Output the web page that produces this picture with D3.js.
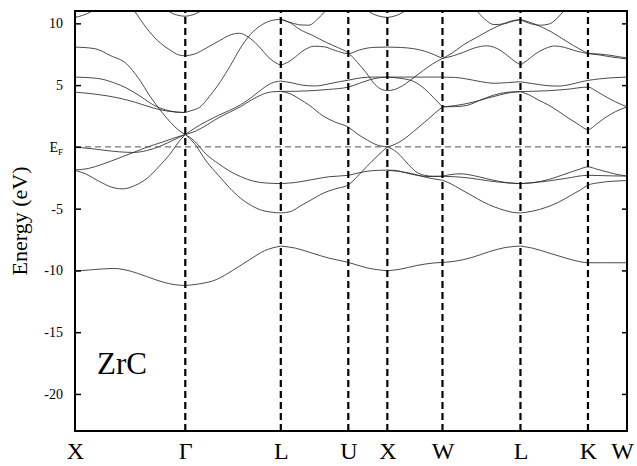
<!DOCTYPE html>
<html>
<head>
<meta charset="utf-8">
<script src="https://cdn.jsdelivr.net/npm/d3@7"></script>
<style>
  html, body { margin: 0; padding: 0; background: #fff; }
  svg { display: block; }
</style>
</head>
<body>
<svg id="chart" width="637" height="466"></svg>
<script>
// High-symmetry points along the FCC Brillouin-zone path (cumulative |k|, units of 2π/a)
const kTicks = [0, 1, 1.866, 2.478, 2.832, 3.332, 4.039, 4.651, 5.005];
const kLabels = ["X", "Γ", "L", "U", "X", "W", "L", "K", "W"];
const energyTicks = [10, 5, 0, -5, -10, -15, -20];
const compound = "ZrC";

// Band energies (eV) as [k, E] pairs, one group per path section
const bandsXG = [
  [[0, 10.48], [0.07, 10.65], [0.155, 11.0], [0.22, 11.5]],
  [[0.80, 11.4], [0.86, 10.92], [0.93, 10.66], [1, 10.57]],
  [[0.50, 11.5], [0.54, 11.0], [0.65, 9.6], [0.75, 8.6], [0.86, 7.85], [0.94, 7.45], [1, 7.37]],
  [[0, 8.08], [0.18, 7.95], [0.32, 7.4], [0.47, 6.7], [0.58, 5.5], [0.68, 4.1], [0.78, 2.9], [0.87, 1.95], [0.94, 1.35], [1, 1.0]],
  [[0, 5.65], [0.2, 5.55], [0.35, 5.2], [0.47, 4.75], [0.6, 4.05], [0.71, 3.4], [0.82, 3.0], [0.92, 2.82], [1, 2.78]],
  [[0, 4.43], [0.2, 4.25], [0.4, 3.95], [0.55, 3.6], [0.71, 3.15], [0.85, 2.88], [1, 2.78]],
  [[0, 0], [0.2, -0.2], [0.4, -0.4], [0.53, -0.45], [0.65, -0.3], [0.77, 0.05], [0.88, 0.5], [1, 1.0]],
  [[0, -1.87], [0.12, -1.75], [0.25, -1.4], [0.4, -0.9], [0.53, -0.45], [0.66, 0.0], [0.78, 0.35], [0.9, 0.72], [1, 1.0]],
  [[0, -1.9], [0.1, -2.2], [0.22, -2.8], [0.33, -3.25], [0.43, -3.4], [0.55, -3.1], [0.66, -2.5], [0.76, -1.6], [0.86, -0.6], [0.94, 0.4], [1, 1.0]],
  [[0, -10.06], [0.15, -9.95], [0.35, -9.84], [0.5, -10.05], [0.65, -10.5], [0.8, -10.95], [0.9, -11.15], [1, -11.22]]
];

const bandsGL = [
  [[1, 10.57], [1.07, 10.7], [1.14, 11.0], [1.2, 11.5]],
  [[1, 7.37], [1.08, 7.5], [1.19, 8.0], [1.31, 8.6], [1.42, 9.1], [1.49, 9.2], [1.57, 8.9], [1.66, 8.2], [1.75, 7.3], [1.82, 6.8], [1.866, 6.62]],
  [[1, 2.78], [1.06, 2.95], [1.13, 3.2], [1.22, 4.1], [1.32, 5.3], [1.41, 6.6], [1.5, 8.0], [1.59, 9.1], [1.68, 9.8], [1.77, 10.2], [1.866, 10.33]],
  [[1, 1.0], [1.1, 1.6], [1.2, 2.1], [1.3, 2.55], [1.4, 2.95], [1.5, 3.4], [1.6, 4.0], [1.7, 4.7], [1.78, 5.15], [1.866, 5.33]],
  [[1, 1.0], [1.1, 1.3], [1.2, 1.8], [1.3, 2.35], [1.4, 2.8], [1.5, 3.25], [1.6, 3.8], [1.7, 4.25], [1.78, 4.45], [1.866, 4.49]],
  [[1, 1.0], [1.08, 0.5], [1.19, -0.6], [1.3, -1.35], [1.4, -1.95], [1.5, -2.4], [1.62, -2.78], [1.74, -2.93], [1.866, -2.97]],
  [[1, 1.0], [1.08, 0.3], [1.19, -1.15], [1.3, -2.3], [1.4, -3.3], [1.5, -4.15], [1.6, -4.75], [1.7, -5.15], [1.866, -5.35]],
  [[1, -11.22], [1.12, -11.1], [1.28, -10.75], [1.43, -10.0], [1.58, -9.15], [1.72, -8.4], [1.866, -8.03]]
];

const bandsLUX = [
  [[1.866, 10.33], [1.96, 10.05], [2.05, 9.87], [2.12, 9.85], [2.2, 10.35], [2.27, 11.0], [2.32, 11.5]],
  [[1.866, 10.33], [1.95, 10.05], [2.04, 9.5], [2.16, 9.0], [2.28, 8.45], [2.38, 8.05], [2.478, 7.6], [2.56, 6.85], [2.64, 6.0], [2.72, 5.05], [2.78, 4.65], [2.832, 4.55]],
  [[1.866, 6.62], [1.93, 6.85], [2.0, 7.3], [2.08, 7.85], [2.17, 8.15], [2.26, 8.1], [2.36, 7.8], [2.478, 7.55], [2.58, 7.85], [2.7, 8.05], [2.832, 8.08]],
  [[1.866, 5.33], [1.96, 5.2], [2.06, 5.0], [2.18, 4.93], [2.3, 5.1], [2.4, 5.28], [2.478, 5.4], [2.6, 5.6], [2.7, 5.65], [2.832, 5.65]],
  [[1.866, 4.49], [2.0, 4.5], [2.15, 4.55], [2.3, 4.65], [2.478, 4.84], [2.58, 5.15], [2.68, 5.45], [2.76, 5.6], [2.832, 5.65]],
  [[1.866, 4.49], [1.95, 4.3], [2.04, 3.85], [2.12, 3.4], [2.25, 2.5], [2.36, 2.0], [2.478, 1.6], [2.56, 1.05], [2.65, 0.55], [2.74, 0.15], [2.832, 0.0]],
  [[1.866, -2.97], [2.0, -2.88], [2.15, -2.65], [2.3, -2.42], [2.478, -2.3], [2.6, -2.05], [2.7, -1.92], [2.832, -1.88]],
  [[1.866, -5.35], [1.95, -5.25], [2.04, -4.8], [2.15, -4.25], [2.25, -3.75], [2.36, -3.4], [2.478, -3.08], [2.56, -2.4], [2.645, -1.6], [2.74, -0.75], [2.832, 0.0]],
  [[2.6, 11.6], [2.66, 11.0], [2.75, 10.6], [2.832, 10.48]],
  [[1.866, -8.03], [2.0, -8.2], [2.15, -8.6], [2.3, -9.0], [2.478, -9.35], [2.65, -9.8], [2.832, -10.03]]
];

const bandsXW = [
  [[2.832, 10.48], [2.9, 10.6], [2.99, 11.0], [3.05, 11.5]],
  [[2.832, 8.08], [2.95, 8.05], [3.07, 7.95], [3.17, 7.75], [3.26, 7.45], [3.332, 7.16]],
  [[2.832, 4.55], [2.9, 4.65], [2.97, 4.95], [3.07, 5.6], [3.16, 6.2], [3.24, 6.7], [3.332, 7.16]],
  [[2.832, 5.65], [3.0, 5.65], [3.17, 5.65], [3.332, 5.65]],
  [[2.832, 5.65], [2.95, 5.55], [3.07, 5.3], [3.17, 4.7], [3.26, 3.9], [3.332, 3.24]],
  [[2.832, 0], [2.9, 0.2], [2.97, 0.55], [3.07, 1.25], [3.17, 2.0], [3.26, 2.7], [3.332, 3.24]],
  [[2.832, 0], [2.88, -0.2], [2.95, -0.7], [3.02, -1.4], [3.09, -2.0], [3.17, -2.3], [3.25, -2.38], [3.332, -2.38]],
  [[2.832, -1.88], [2.9, -1.9], [3.0, -2.1], [3.1, -2.3], [3.2, -2.4], [3.332, -2.38]],
  [[2.832, -1.9], [2.95, -2.0], [3.07, -2.2], [3.2, -2.5], [3.332, -2.7]],
  [[2.832, -10.03], [2.95, -9.9], [3.1, -9.6], [3.25, -9.4], [3.332, -9.35]]
];

const bandsWL = [
  [[3.59, 11.6], [3.645, 11.0], [3.72, 10.3], [3.8, 9.9], [3.9, 9.98], [3.98, 10.2], [4.039, 10.3]],
  [[3.332, 7.16], [3.42, 7.6], [3.52, 8.25], [3.64, 8.85], [3.76, 9.45], [3.88, 9.95], [3.97, 10.22], [4.039, 10.3]],
  [[3.332, 7.16], [3.42, 7.35], [3.52, 7.65], [3.62, 8.0], [3.73, 8.18], [3.83, 7.95], [3.92, 7.4], [3.99, 6.9], [4.039, 6.65]],
  [[3.332, 5.65], [3.45, 5.62], [3.55, 5.5], [3.68, 5.28], [3.8, 5.15], [3.92, 5.2], [4.039, 5.28]],
  [[3.332, 3.24], [3.45, 3.26], [3.55, 3.35], [3.68, 3.8], [3.8, 4.2], [3.92, 4.42], [4.039, 4.47]],
  [[3.332, 3.24], [3.45, 3.35], [3.6, 3.6], [3.72, 3.9], [3.85, 4.2], [3.95, 4.4], [4.039, 4.47]],
  [[3.332, -2.38], [3.4, -2.25], [3.5, -2.18], [3.6, -2.3], [3.72, -2.55], [3.85, -2.8], [3.95, -2.93], [4.039, -2.97]],
  [[3.332, -2.38], [3.45, -2.42], [3.6, -2.55], [3.75, -2.75], [3.9, -2.9], [4.039, -2.97]],
  [[3.332, -2.7], [3.4, -2.95], [3.5, -3.45], [3.6, -3.95], [3.7, -4.45], [3.8, -4.85], [3.9, -5.15], [3.97, -5.3], [4.039, -5.35]],
  [[3.332, -9.35], [3.45, -9.25], [3.6, -8.95], [3.75, -8.5], [3.9, -8.15], [4.039, -8.03]]
];

const bandsLKW = [
  [[4.039, 10.3], [4.12, 10.0], [4.22, 9.85], [4.3, 9.95], [4.37, 10.4], [4.43, 11.0], [4.48, 11.6]],
  [[4.039, 10.3], [4.12, 10.1], [4.22, 9.75], [4.32, 9.3], [4.42, 8.75], [4.52, 8.2], [4.6, 7.8], [4.651, 7.55]],
  [[4.039, 6.62], [4.1, 7.0], [4.17, 7.5], [4.26, 7.95], [4.35, 8.17], [4.44, 8.05], [4.53, 7.8], [4.651, 7.55]],
  [[4.651, 7.56], [4.75, 7.45], [4.85, 7.3], [4.93, 7.2], [5.005, 7.12]],
  [[4.651, 7.56], [4.75, 7.52], [4.85, 7.42], [4.93, 7.3], [5.005, 7.2]],
  [[4.039, 5.27], [4.15, 5.12], [4.27, 4.97], [4.38, 4.92], [4.5, 5.07], [4.58, 5.25], [4.651, 5.38], [4.75, 5.5], [4.88, 5.6], [5.005, 5.65]],
  [[4.039, 4.47], [4.15, 4.5], [4.3, 4.55], [4.45, 4.65], [4.651, 4.84], [4.73, 4.5], [4.805, 4.1], [4.9, 3.65], [5.005, 3.24]],
  [[4.039, 4.47], [4.12, 4.2], [4.2, 3.8], [4.29, 3.4], [4.38, 2.9], [4.47, 2.35], [4.56, 1.85], [4.651, 1.4], [4.73, 1.85], [4.805, 2.35], [4.9, 2.85], [5.005, 3.24]],
  [[4.039, -2.97], [4.15, -2.9], [4.29, -2.65], [4.38, -2.4], [4.47, -2.12], [4.56, -1.85], [4.651, -1.62], [4.73, -1.8], [4.805, -1.98], [4.9, -2.2], [5.005, -2.36]],
  [[4.039, -2.97], [4.15, -2.9], [4.3, -2.75], [4.45, -2.55], [4.651, -2.3], [4.75, -2.32], [4.88, -2.35], [5.005, -2.36]],
  [[4.039, -5.35], [4.15, -5.2], [4.27, -4.9], [4.38, -4.5], [4.5, -3.9], [4.58, -3.5], [4.651, -3.1], [4.75, -2.9], [4.88, -2.78], [5.005, -2.73]],
  [[4.039, -8.03], [4.15, -8.2], [4.3, -8.6], [4.45, -9.0], [4.58, -9.3], [4.651, -9.38], [4.8, -9.38], [5.005, -9.38]]
];

const allBands = [].concat(bandsXG, bandsGL, bandsLUX, bandsXW, bandsWL, bandsLKW);

// Layout
const serif = "'Liberation Serif'";
const plot = { left: 75, right: 627, top: 11, bottom: 431 };
const svg = d3.select("#chart");

const x = d3.scaleLinear().domain([kTicks[0], kTicks[kTicks.length - 1]]).range([plot.left, plot.right]);
const y = d3.scaleLinear().domain([-23, 11]).range([plot.bottom, plot.top]);

svg.append("defs").append("clipPath").attr("id", "plot-clip")
  .append("rect")
  .attr("x", plot.left).attr("y", plot.top)
  .attr("width", plot.right - plot.left).attr("height", plot.bottom - plot.top);

// Bands
const line = d3.line()
  .x(d => x(d[0]))
  .y(d => y(d[1]))
  .curve(d3.curveMonotoneX);

svg.append("g").attr("clip-path", "url(#plot-clip)")
  .selectAll("path").data(allBands).join("path")
  .attr("d", line)
  .attr("fill", "none")
  .attr("stroke", "#2a2a2a")
  .attr("stroke-width", 0.85);

// Fermi level
svg.append("line")
  .attr("x1", plot.left).attr("x2", plot.right)
  .attr("y1", y(0)).attr("y2", y(0))
  .attr("stroke", "#555")
  .attr("stroke-width", 1)
  .attr("stroke-dasharray", "6,4");

// Vertical dashed lines at interior high-symmetry points
svg.append("g").selectAll("line").data(kTicks.slice(1, -1)).join("line")
  .attr("x1", d => x(d)).attr("x2", d => x(d))
  .attr("y1", plot.bottom).attr("y2", plot.top)
  .attr("stroke", "#000")
  .attr("stroke-width", 2.2)
  .attr("stroke-dasharray", "7,4");

// Left energy axis with inward ticks
const yAxis = svg.append("g")
  .attr("transform", `translate(${plot.left},0)`)
  .call(d3.axisLeft(y).tickValues(energyTicks).tickSize(-6).tickPadding(12).tickFormat(d => d === 0 ? "" : String(d)));
yAxis.select(".domain").remove();
yAxis.selectAll(".tick line").attr("stroke", "#000").attr("stroke-width", 1.5);
yAxis.selectAll(".tick text")
  .style("font-family", serif)
  .style("font-size", "14px")
  .attr("fill", "#000");

// Fermi-level tick label E_F
const efLabel = yAxis.selectAll(".tick").filter(d => d === 0).select("text");
efLabel.text(null);
efLabel.append("tspan").text("E");
efLabel.append("tspan").style("font-size", "9px").attr("dy", 3).text("F");

// Right axis ticks (no labels)
const yAxisR = svg.append("g")
  .attr("transform", `translate(${plot.right},0)`)
  .call(d3.axisRight(y).tickValues(energyTicks).tickSize(-5).tickFormat(""));
yAxisR.select(".domain").remove();
yAxisR.selectAll(".tick line").attr("stroke", "#000").attr("stroke-width", 1.5);

// k-path labels
const xAxis = svg.append("g")
  .attr("transform", `translate(0,${plot.bottom})`)
  .call(d3.axisBottom(x).tickValues(kTicks).tickSize(0).tickPadding(11).tickFormat((d, i) => kLabels[i]));
xAxis.select(".domain").remove();
xAxis.selectAll(".tick text")
  .style("font-family", serif)
  .style("font-size", "24px")
  .attr("fill", "#000")
  .attr("dx", (d, i) => i === kTicks.length - 1 ? -5 : 0);

// Frame
svg.append("rect")
  .attr("x", plot.left).attr("y", plot.top)
  .attr("width", plot.right - plot.left).attr("height", plot.bottom - plot.top)
  .attr("fill", "none")
  .attr("stroke", "#000")
  .attr("stroke-width", 2);

// Axis title
svg.append("text")
  .attr("transform", "translate(27,221) rotate(-90)")
  .attr("text-anchor", "middle")
  .style("font-family", serif)
  .style("font-size", "22px")
  .attr("fill", "#000")
  .text("Energy (eV)");

// Compound label
svg.append("text")
  .attr("x", 97).attr("y", 374)
  .style("font-family", serif)
  .style("font-size", "31px")
  .attr("fill", "#000")
  .text(compound);
</script>
</body>
</html>
